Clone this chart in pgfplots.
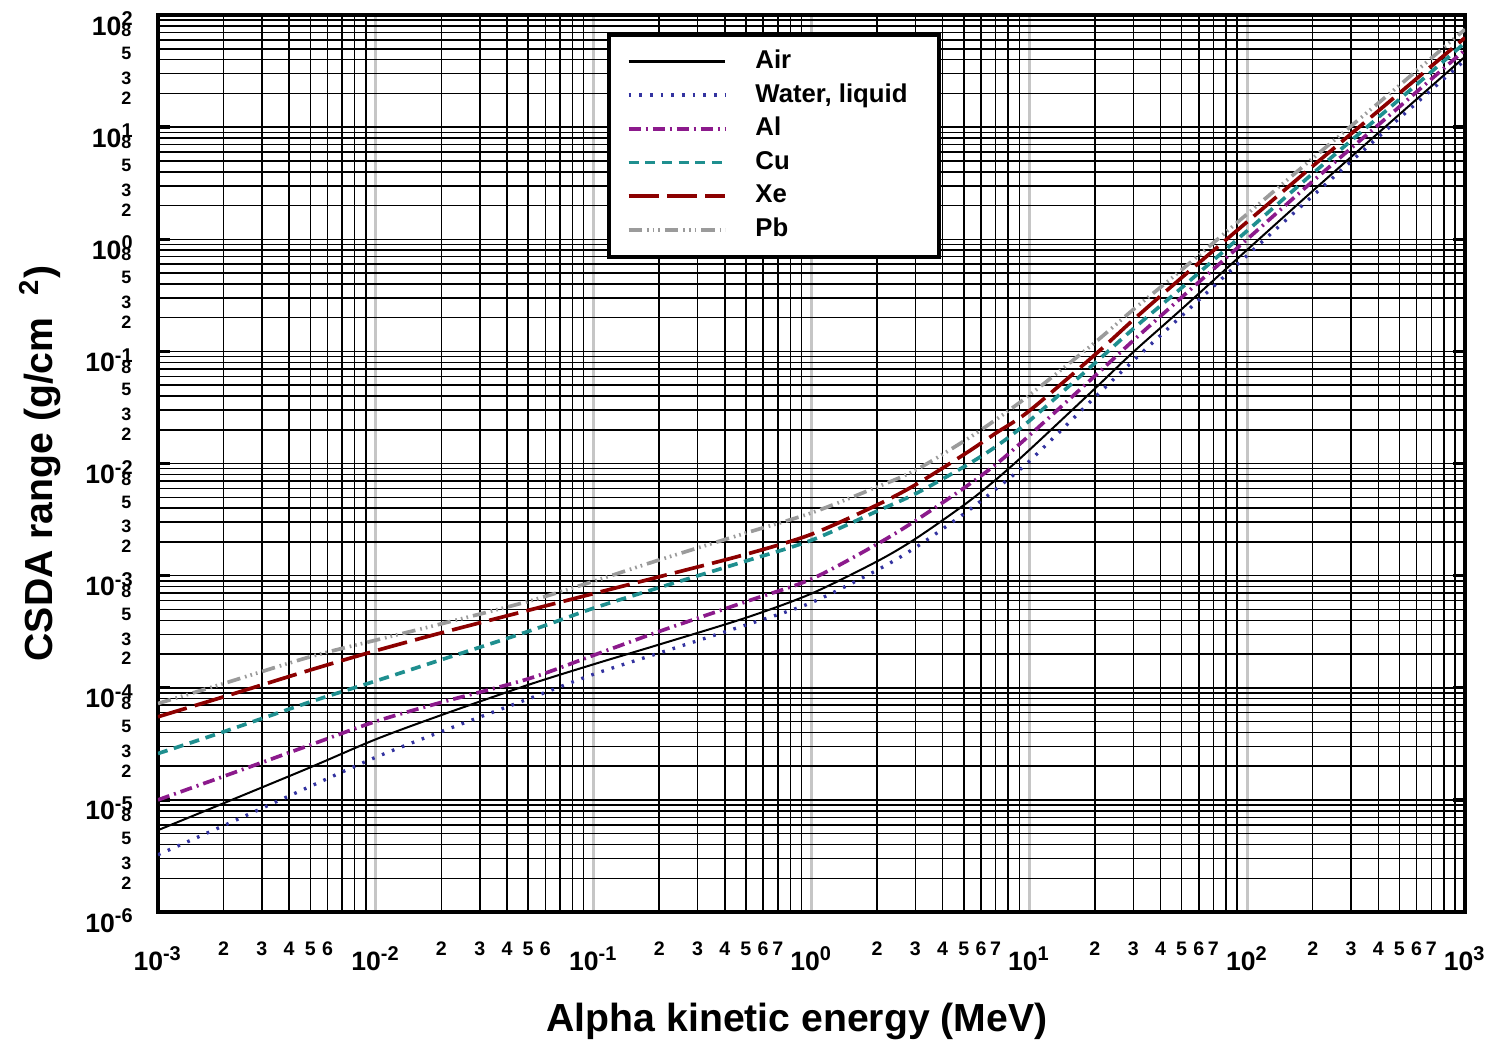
\documentclass[border=0pt]{standalone}
\usepackage{fontspec}
\setmainfont{Liberation Sans}
\usepackage{pgfplots}
\usepackage{pgfplotstable}
\pgfplotsset{compat=1.18}
\usetikzlibrary{calc}

\definecolor{waterblue}{RGB}{51,51,160}
\definecolor{alpurple}{RGB}{140,26,140}
\definecolor{cuteal}{RGB}{31,143,143}
\definecolor{xered}{RGB}{140,0,0}
\definecolor{pbgray}{RGB}{155,155,155}

% CSDA range (g/cm^2) of alpha particles
\pgfplotstableread{
E      air      water    al       cu       xe       pb
0.001  5.37e-6  3.24e-6  1.00e-5  2.59e-5  5.51e-5  7.24e-5
0.002  9.33e-6  5.89e-6  1.62e-5  4.05e-5  8.30e-5  1.09e-4
0.005  1.95e-5  1.32e-5  3.09e-5  7.48e-5  1.44e-4  1.89e-4
0.01   3.47e-5  2.40e-5  5.01e-5  1.15e-4  2.14e-4  2.66e-4
0.02   5.71e-5  4.07e-5  7.41e-5  1.78e-4  3.09e-4  3.72e-4
0.05   1.06e-4  7.94e-5  1.20e-4  3.18e-4  4.90e-4  5.89e-4
0.1    1.62e-4  1.32e-4  1.95e-4  5.13e-4  6.92e-4  8.91e-4
0.2    2.43e-4  2.04e-4  3.18e-4  7.83e-4  9.77e-4  1.38e-3
0.5    4.21e-4  3.63e-4  5.86e-4  1.35e-3  1.55e-3  2.40e-3
1      6.92e-4  5.75e-4  9.33e-4  2.07e-3  2.34e-3  3.63e-3
2      1.34e-3  1.12e-3  1.91e-3  3.76e-3  4.27e-3  6.17e-3
3      2.13e-3  1.78e-3  3.09e-3  5.37e-3  6.46e-3  8.71e-3
5      4.25e-3  3.55e-3  6.03e-3  9.33e-3  1.20e-2  1.58e-2
7      7.14e-3  5.89e-3  9.77e-3  1.41e-2  1.86e-2  2.45e-2
10     1.32e-2  1.05e-2  1.78e-2  2.40e-2  2.95e-2  4.07e-2
20     4.66e-2  3.90e-2  6.04e-2  7.86e-2  9.33e-2  0.120
30     9.86e-2  8.26e-2  0.125    0.159    0.191    0.236
50     0.238    0.207    0.303    0.369    0.454    0.533
100    0.805    0.718    1.00     1.19     1.43     1.68
200    2.70     2.44     3.29     3.86     4.49     5.27
500    13.0     12.0     15.2     17.7     20.1     23.6
1000   42.5     39.6     48.8     56.6     62.8     74.5
}\csda

\begin{document}
\begin{tikzpicture}
\begin{axis}[
  scale only axis, width=392.1bp, height=269.1bp,
  xmode=log, ymode=log,
  xmin=1e-3, xmax=1e3, ymin=1e-6, ymax=1e2,
  xtick={1e-3,1e-2,1e-1,1,10,100,1000},
  xticklabels={10\textsuperscript{-3},10\textsuperscript{-2},10\textsuperscript{-1},
    10\textsuperscript{0},10\textsuperscript{1},10\textsuperscript{2},10\textsuperscript{3}},
  ytick={1e-6,1e-5,1e-4,1e-3,1e-2,1e-1,1,10,100},
  yticklabels={10\textsuperscript{-6},10\textsuperscript{-5},10\textsuperscript{-4},
    10\textsuperscript{-3},10\textsuperscript{-2},10\textsuperscript{-1},
    10\textsuperscript{0},10\textsuperscript{1},10\textsuperscript{2}},
  xticklabel style={anchor=base, yshift=-17.4bp, font=\fontsize{8}{9}\selectfont\bfseries},
  yticklabel style={anchor=base east, xshift=-3.6bp, yshift=-6bp, font=\fontsize{8}{9}\selectfont\bfseries},
  extra x ticks={2e-3,3e-3,4e-3,5e-3,6e-3,2e-2,3e-2,4e-2,5e-2,6e-2,
    0.2,0.3,0.4,0.5,0.6,0.7,2,3,4,5,6,7,20,30,40,50,60,70,200,300,400,500,600,700},
  extra x tick labels={2,3,4,5,6,2,3,4,5,6,2,3,4,5,6,7,2,3,4,5,6,7,2,3,4,5,6,7,2,3,4,5,6,7},
  extra x tick style={grid=none, tick style={draw=none},
    xticklabel style={anchor=base, yshift=4.5bp, font=\fontsize{5.9}{7}\selectfont\bfseries}},
  extra y ticks={2e-6,3e-6,5e-6,8e-6,2e-5,3e-5,5e-5,8e-5,2e-4,3e-4,5e-4,8e-4,
    2e-3,3e-3,5e-3,8e-3,2e-2,3e-2,5e-2,8e-2,0.2,0.3,0.5,0.8,2,3,5,8,20,30,50,80},
  extra y tick labels={2,3,5,8,2,3,5,8,2,3,5,8,2,3,5,8,2,3,5,8,2,3,5,8,2,3,5,8,2,3,5,8},
  extra y tick style={grid=none, tick style={draw=none},
    yticklabel style={anchor=east, xshift=-0.9bp, yshift=4.6bp, font=\fontsize{5.4}{6}\selectfont\bfseries}},
  grid=both,
  minor grid style={black, line width=0.45bp},
  major grid style={black, line width=0.45bp},
  major x grid style={gray!45, line width=0.8bp},
  axis line style={black, line width=1.1bp},
  xtick style={draw=none},
  ytick style={black, line width=1bp},
  major tick length=3.6bp, minor tick length=0pt,
  xlabel={Alpha kinetic energy (MeV)},
  ylabel={CSDA range (g/cm~~\textsuperscript{2})},
  xlabel style={at={(axis description cs:0.489,-0.122)}, anchor=center, font=\fontsize{11.8}{13}\selectfont\bfseries},
  ylabel style={at={(axis description cs:-0.0903,0.5)}, anchor=center, font=\fontsize{11.8}{13}\selectfont\bfseries},
  legend style={at={(axis description cs:0.3435,0.980)}, anchor=north west, draw=black, line width=1.1bp,
    fill=white, font=\fontsize{7.75}{9}\selectfont\bfseries, inner xsep=5.4bp, inner ysep=3bp,
    row sep=0pt, nodes={inner sep=0pt, minimum height=10.1bp}},
  legend cell align=left,
  legend image code/.code={\draw[#1, line width=1.1bp] (0bp,0bp) -- (29bp,0bp); \path (37.5bp,0bp);},
]
\addplot[black, line width=0.6bp, smooth] table[x=E, y=air] {\csda};
\addlegendentry{Air}
\addplot[waterblue, line width=1bp, dash pattern=on 0.8bp off 2.4bp, smooth] table[x=E, y=water] {\csda};
\addlegendentry{Water, liquid\rule{4bp}{0pt}}
\addplot[alpurple, line width=1.1bp, dash pattern=on 3.6bp off 1.5bp on 0.6bp off 1.5bp, smooth] table[x=E, y=al] {\csda};
\addlegendentry{Al}
\addplot[cuteal, line width=1.1bp, dash pattern=on 3bp off 2bp, smooth] table[x=E, y=cu] {\csda};
\addlegendentry{Cu}
\addplot[xered, line width=1.1bp, dash pattern=on 9bp off 2.5bp, smooth] table[x=E, y=xe] {\csda};
\addlegendentry{Xe}
\addplot[pbgray, line width=1.1bp, dash pattern=on 4bp off 1.5bp on 0.5bp off 1.2bp on 0.5bp off 1.2bp on 0.5bp off 1.5bp, smooth] table[x=E, y=pb] {\csda};
\addlegendentry{Pb}
\end{axis}
\pgfresetboundingbox
\path ($(current axis.south west)+(-47.4bp,-39.6bp)$) rectangle ($(current axis.north east)+(8.4bp,4.5bp)$);
\end{tikzpicture}
\end{document}
